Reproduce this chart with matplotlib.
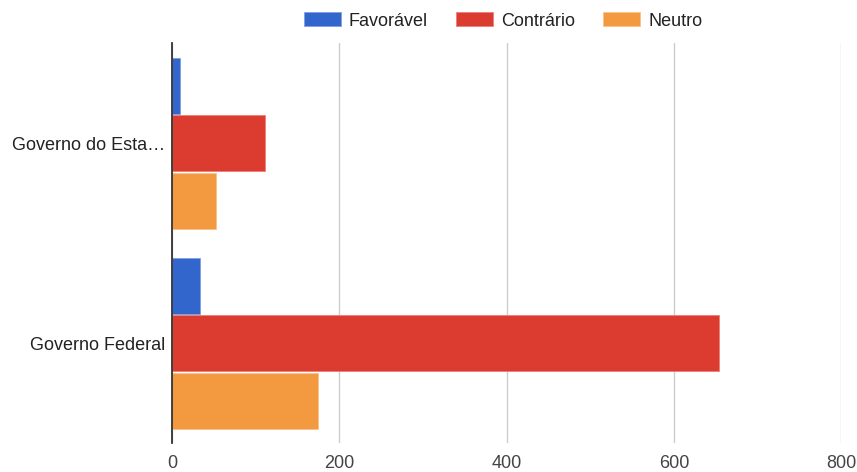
import matplotlib.pyplot as plt
import numpy as np
from matplotlib.patches import Patch

plt.rcParams['font.family'] = ['Liberation Sans', 'DejaVu Sans']

# dados
categorias = ['Governo do Esta…', 'Governo Federal']
series = ['Favorável', 'Contrário', 'Neutro']
favoravel = [10, 34]
contrario = [111, 654]
neutro = [53, 174]
cores = ['#3366cc', '#dc3b2f', '#f39a40']
bordas = ['#7f9fe0', '#ec8079', '#f8c28a']

fig = plt.figure(figsize=(8.57, 4.72), dpi=100)
ax = fig.add_axes([172/857, 1-443/472, (841.3-172)/857, 400/472])

y = np.arange(len(categorias))
h = 0.28
passo = 0.2875
for i, (vals, c, b) in enumerate(zip([favoravel, contrario, neutro], cores, bordas)):
    ax.barh(y + (i-1)*passo, vals, height=h, color=c, edgecolor=b, linewidth=0.6, zorder=3)

ax.set_xlim(0, 800)
ax.set_ylim(1.5, -0.5)
ax.set_xticks([0, 200, 400, 600, 800])
ax.set_yticks(y)
ax.set_yticklabels(categorias)
ax.grid(axis='x', color='#cccccc', linewidth=1, zorder=0)
for s in ['top', 'right', 'bottom']:
    ax.spines[s].set_visible(False)
ax.spines['left'].set_color('#333333')
ax.spines['left'].set_linewidth(1.3)
ax.spines['left'].set_zorder(4)
ax.tick_params(axis='both', length=0, labelsize=13, colors='#444444')
ax.tick_params(axis='x', pad=9)
ax.tick_params(axis='y', pad=5)
for t in ax.get_yticklabels():
    t.set_color('#222222')

handles = [Patch(facecolor=c, edgecolor=b, linewidth=0.6) for c, b in zip(cores, bordas)]
fig.legend(handles, series, loc='center', bbox_to_anchor=(503/857, 1-21/472),
           ncol=3, frameon=False, fontsize=13, handlelength=2.05, handleheight=0.78,
           handletextpad=0.45, columnspacing=1.55, labelcolor='#222222')

fig.savefig('out.png', dpi=100)
